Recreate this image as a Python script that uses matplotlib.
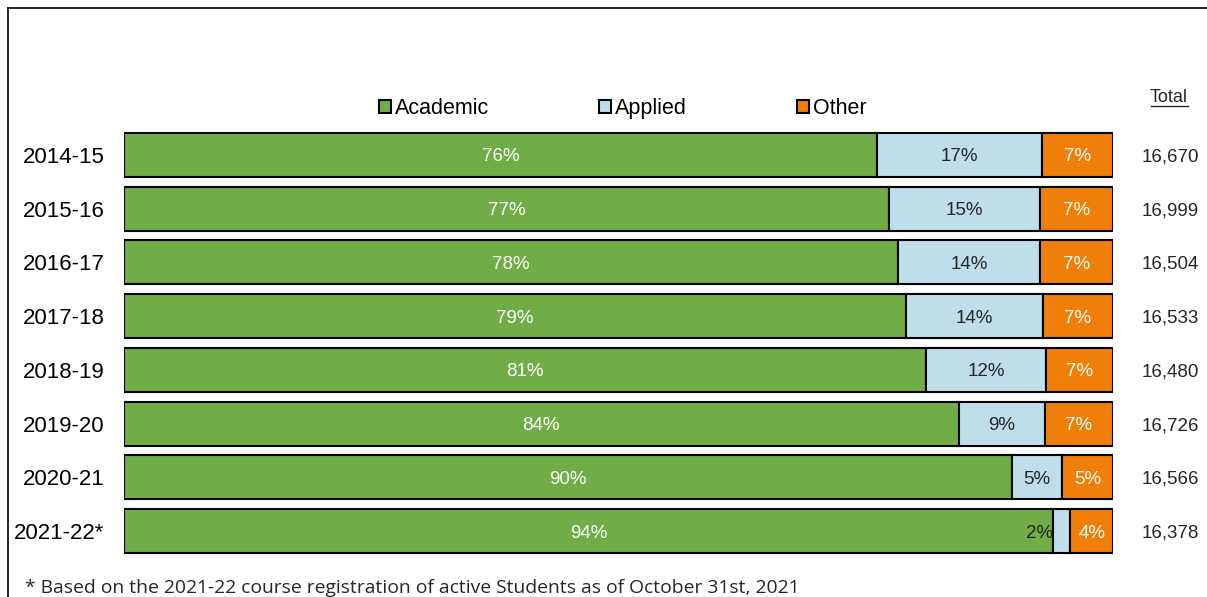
import matplotlib.pyplot as plt
from matplotlib.patches import Patch
from matplotlib.lines import Line2D

plt.rcParams['font.family'] = ['Liberation Sans', 'DejaVu Sans']

years = ['2014-15', '2015-16', '2016-17', '2017-18', '2018-19', '2019-20', '2020-21', '2021-22*']
academic = [76.1, 77.4, 78.3, 79.1, 81.1, 84.4, 89.8, 93.9]
applied = [16.7, 15.2, 14.3, 13.8, 12.1, 8.7, 5.0, 1.8]
other = [7.2, 7.4, 7.4, 7.1, 6.8, 6.9, 5.2, 4.3]
totals = ['16,670', '16,999', '16,504', '16,533', '16,480', '16,726', '16,566', '16,378']
footnote = '* Based on the 2021-22 course registration of active Students as of October 31st, 2021'

green = '#70AD47'
blue = '#BDDEEA'
orange = '#F07F09'
dark = '#262626'

W, H = 1207, 597
fig = plt.figure(figsize=(W / 100, H / 100), dpi=100)
ax = fig.add_axes([124 / W, 1 - 558 / H, (1113 - 124) / W, (558 - 128) / H])

y = list(range(len(years)))
bh = 0.82
ax.barh(y, academic, height=bh, color=green, edgecolor='black', linewidth=1.5)
ax.barh(y, applied, left=academic, height=bh, color=blue, edgecolor='black', linewidth=1.5)
left_other = [a + b for a, b in zip(academic, applied)]
ax.barh(y, other, left=left_other, height=bh, color=orange, edgecolor='black', linewidth=1.5)

for i in y:
    ax.text(academic[i] / 2, i, f'{academic[i]:.0f}%', ha='center', va='center_baseline',
            color='white', fontsize=13.5)
    if applied[i] < 3:
        ax.text(academic[i], i, f'{applied[i]:.0f}%', ha='right', va='center_baseline',
                color=dark, fontsize=13.5)
    else:
        ax.text(academic[i] + applied[i] / 2, i, f'{applied[i]:.0f}%', ha='center',
                va='center_baseline', color=dark, fontsize=13.5)
    ax.text(left_other[i] + other[i] / 2, i, f'{other[i]:.0f}%', ha='center',
            va='center_baseline', color='white', fontsize=13.5)
    ax.text(105.8, i, totals[i], ha='center', va='center_baseline', color=dark, fontsize=13.5)

ax.set_xlim(0, 100)
ax.set_ylim(len(years) - 0.5, -0.5)
ax.set_yticks(y)
ax.set_yticklabels(years, fontsize=16, color='black')
ax.set_xticks([])
ax.tick_params(axis='y', length=0, pad=20 - 6)
for s in ax.spines.values():
    s.set_visible(False)

handles = [Patch(facecolor=c, edgecolor='black', linewidth=1.5) for c in (green, blue, orange)]
fig.legend(handles, ['Academic', 'Applied', 'Other'], loc='center', ncol=3,
           bbox_to_anchor=(623 / W, 1 - 109 / H), frameon=False, fontsize=15.5,
           handlelength=0.55, handleheight=0.55, handletextpad=0.2, columnspacing=5.1)

fig.text(1169 / W, 1 - 97 / H, 'Total', ha='center', va='center', fontsize=13, color=dark)
fig.add_artist(Line2D([1151 / W, 1188 / W], [1 - 106 / H, 1 - 106 / H], color=dark, linewidth=1))

fig.text(25 / W, 1 - 588 / H, footnote, ha='left', va='center', fontsize=13.9,
         family=['Open Sans', 'DejaVu Sans'], color=dark)

# frame lines on top and left
fig.add_artist(Line2D([7.5 / W, 1], [1 - 8 / H, 1 - 8 / H], color='black', linewidth=1.2))
fig.add_artist(Line2D([7.5 / W, 7.5 / W], [0, 1 - 8 / H], color='black', linewidth=1.2))

fig.savefig('out.png', dpi=100)
